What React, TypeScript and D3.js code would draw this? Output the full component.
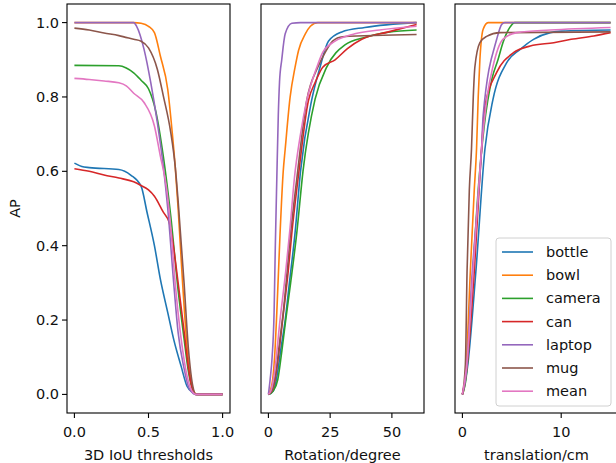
import React from 'react';
import * as d3 from 'd3';

type Pt = [number, number];

const categories = ['bottle', 'bowl', 'camera', 'can', 'laptop', 'mug', 'mean'];
const colors = ['#1f77b4', '#ff7f0e', '#2ca02c', '#d62728', '#9467bd', '#8c564b', '#e377c2'];

// Panel 1: AP vs 3D IoU threshold
const iouBottle: Pt[] = [[0, 0.622], [0.05, 0.613], [0.1, 0.61], [0.3, 0.605], [0.38, 0.59], [0.45, 0.56], [0.49, 0.49], [0.54, 0.4], [0.58, 0.31], [0.63, 0.22], [0.67, 0.148], [0.72, 0.076], [0.76, 0.022], [0.8, 0.005], [0.82, 0], [1, 0]];
const iouBowl: Pt[] = [[0, 1], [0.4, 1], [0.45, 0.998], [0.5, 0.99], [0.54, 0.973], [0.58, 0.91], [0.63, 0.82], [0.66, 0.705], [0.68, 0.614], [0.7, 0.5], [0.73, 0.3], [0.76, 0.13], [0.79, 0.03], [0.81, 0.005], [0.83, 0], [1, 0]];
const iouCamera: Pt[] = [[0, 0.885], [0.3, 0.884], [0.35, 0.878], [0.4, 0.865], [0.45, 0.845], [0.5, 0.822], [0.55, 0.76], [0.6, 0.64], [0.65, 0.48], [0.7, 0.28], [0.74, 0.15], [0.77, 0.06], [0.8, 0.01], [0.82, 0], [1, 0]];
const iouCan: Pt[] = [[0, 0.607], [0.1, 0.6], [0.2, 0.59], [0.3, 0.582], [0.4, 0.572], [0.45, 0.562], [0.5, 0.55], [0.54, 0.533], [0.6, 0.49], [0.64, 0.462], [0.66, 0.42], [0.7, 0.3], [0.74, 0.17], [0.77, 0.07], [0.8, 0.01], [0.82, 0], [1, 0]];
const iouLaptop: Pt[] = [[0, 1], [0.4, 1], [0.42, 0.99], [0.47, 0.928], [0.515, 0.839], [0.56, 0.73], [0.6, 0.614], [0.63, 0.5], [0.67, 0.3], [0.7, 0.166], [0.74, 0.07], [0.77, 0.02], [0.8, 0.003], [0.82, 0], [1, 0]];
const iouMug: Pt[] = [[0, 0.985], [0.1, 0.98], [0.2, 0.972], [0.3, 0.965], [0.4, 0.955], [0.45, 0.95], [0.5, 0.932], [0.56, 0.874], [0.6, 0.803], [0.65, 0.705], [0.68, 0.614], [0.7, 0.52], [0.74, 0.3], [0.77, 0.12], [0.8, 0.02], [0.82, 0], [1, 0]];
const iouMean: Pt[] = [[0, 0.85], [0.1, 0.847], [0.2, 0.843], [0.3, 0.838], [0.35, 0.83], [0.4, 0.81], [0.47, 0.785], [0.54, 0.722], [0.58, 0.641], [0.62, 0.56], [0.65, 0.45], [0.68, 0.3], [0.72, 0.15], [0.76, 0.05], [0.8, 0.005], [0.82, 0], [1, 0]];

// Panel 2: AP vs rotation error (degree)
const rotBottle: Pt[] = [[0, 0], [2, 0.01], [3.5, 0.05], [5, 0.12], [6.8, 0.2], [8.5, 0.3], [10.8, 0.435], [13, 0.6], [17.6, 0.794], [20.9, 0.88], [24.3, 0.95], [29.7, 0.975], [39, 0.987], [60, 1.0]];
const rotBowl: Pt[] = [[0, 0], [1.5, 0.03], [2.5, 0.1], [3.4, 0.22], [4.7, 0.43], [6, 0.6], [6.8, 0.66], [8.8, 0.8], [10.8, 0.88], [12.2, 0.925], [15, 0.97], [17, 0.99], [20, 1], [60, 1]];
const rotCamera: Pt[] = [[0, 0], [2, 0.01], [3.8, 0.04], [5.5, 0.12], [7, 0.2], [9, 0.3], [11.5, 0.435], [14, 0.6], [18.9, 0.794], [23.6, 0.88], [31, 0.94], [39, 0.96], [48.6, 0.974], [60, 0.98]];
const rotCan: Pt[] = [[0, 0], [1.5, 0.01], [2.7, 0.04], [4, 0.1], [6.1, 0.22], [8, 0.33], [9.5, 0.435], [12, 0.58], [16.2, 0.79], [19, 0.84], [22, 0.88], [27, 0.9], [32, 0.93], [37.8, 0.955], [48.6, 0.975], [60, 0.995]];
const rotLaptop: Pt[] = [[0, 0], [0.7, 0.04], [1.5, 0.1], [2.3, 0.22], [2.8, 0.4], [3.4, 0.58], [4, 0.75], [4.5, 0.84], [5.4, 0.9], [6.8, 0.97], [9.5, 0.998], [13, 1], [60, 1]];
const rotMug: Pt[] = [[0, 0], [1.5, 0.01], [3, 0.06], [4.7, 0.15], [6, 0.22], [9, 0.435], [11.5, 0.58], [15.5, 0.79], [20, 0.88], [23, 0.92], [26, 0.95], [30, 0.962], [60, 0.968]];
const rotMean: Pt[] = [[0, 0], [1, 0.01], [2.5, 0.06], [4.7, 0.2], [7, 0.33], [8.8, 0.45], [10.5, 0.58], [13, 0.7], [15.5, 0.79], [19.6, 0.88], [22, 0.92], [27, 0.95], [35, 0.97], [45, 0.98], [60, 0.99]];

// Panel 3: AP vs translation error (cm)
const trBottle: Pt[] = [[0, 0], [0.5, 0.07], [1.36, 0.33], [2.28, 0.66], [3.1, 0.794], [4.5, 0.893], [5.85, 0.928], [7.2, 0.955], [8.9, 0.973], [10, 0.977], [15, 0.98]];
const trBowl: Pt[] = [[0, 0], [0.3, 0.04], [0.8, 0.33], [1.2, 0.55], [1.43, 0.66], [1.6, 0.8], [1.77, 0.9], [2.1, 0.982], [2.6, 1], [15, 1]];
const trCamera: Pt[] = [[0, 0], [0.4, 0.05], [1, 0.3], [1.6, 0.55], [2.2, 0.72], [3, 0.85], [3.6, 0.9], [4.1, 0.946], [4.8, 0.987], [5.3, 1], [15, 1]];
const trCan: Pt[] = [[0, 0], [0.4, 0.06], [1.2, 0.33], [1.8, 0.6], [2.28, 0.776], [3.47, 0.866], [5.17, 0.919], [6.87, 0.937], [9.25, 0.946], [11, 0.955], [13.3, 0.964], [15, 0.973]];
const trLaptop: Pt[] = [[0, 0], [0.4, 0.06], [1, 0.33], [1.5, 0.5], [1.94, 0.66], [2.1, 0.75], [3.47, 0.955], [4, 0.996], [4.3, 1], [15, 1]];
const trMug: Pt[] = [[0, 0], [0.3, 0.08], [0.47, 0.33], [0.7, 0.55], [0.92, 0.66], [1.1, 0.8], [1.26, 0.88], [1.77, 0.946], [2.45, 0.963], [3.8, 0.973], [15, 0.975]];
const trMean: Pt[] = [[0, 0], [0.4, 0.07], [1.08, 0.33], [1.94, 0.66], [2.5, 0.8], [3.1, 0.883], [4.1, 0.955], [5.5, 0.973], [8.9, 0.98], [15, 0.987]];

const yTicks = [0, 0.2, 0.4, 0.6, 0.8, 1.0];
const yTickLabels = ['0.0', '0.2', '0.4', '0.6', '0.8', '1.0'];
const iouTicks = [0, 0.5, 1.0];
const iouTickLabels = ['0.0', '0.5', '1.0'];
const rotTicks = [0, 25, 50];
const rotTickLabels = ['0', '25', '50'];
const trTicks = [0, 10];
const trTickLabels = ['0', '10'];

const panels = [
  { xlabel: '3D IoU thresholds', xMin: 0, xMax: 1, ticks: iouTicks, labels: iouTickLabels, series: [iouBottle, iouBowl, iouCamera, iouCan, iouLaptop, iouMug, iouMean] },
  { xlabel: 'Rotation/degree', xMin: 0, xMax: 60, ticks: rotTicks, labels: rotTickLabels, series: [rotBottle, rotBowl, rotCamera, rotCan, rotLaptop, rotMug, rotMean] },
  { xlabel: 'translation/cm', xMin: 0, xMax: 15, ticks: trTicks, labels: trTickLabels, series: [trBottle, trBowl, trCamera, trCan, trLaptop, trMug, trMean] },
];

const W = 616;
const H = 463;
const top = 4;
const bottom = 413;
const panelLefts = [67, 261, 455];
const panelW = 163;
const FONT = 'DejaVu Sans, sans-serif';
const FS = 14.5;

export default function App() {
  const y = d3.scaleLinear().domain([-0.05, 1.05]).range([bottom, top]);
  return (
    <svg width={W} height={H} style={{ position: 'absolute', left: 0, top: 0, background: '#fff' }} fontFamily={FONT}>
      <defs>
        {panels.map((p, i) => (
          <clipPath id={`clip${i}`} key={i}>
            <rect x={panelLefts[i]} y={top} width={panelW} height={bottom - top} />
          </clipPath>
        ))}
      </defs>
      {panels.map((p, i) => {
        const pad = (p.xMax - p.xMin) * 0.05;
        const x = d3.scaleLinear().domain([p.xMin - pad, p.xMax + pad]).range([panelLefts[i], panelLefts[i] + panelW]);
        const line = d3.line<Pt>().x(d => x(d[0])).y(d => y(d[1])).curve(d3.curveMonotoneX);
        return (
          <g key={i}>
            <g clipPath={`url(#clip${i})`}>
              {p.series.map((s, j) => (
                <path key={j} d={line(s) || ''} fill="none" stroke={colors[j]} strokeWidth={1.6} strokeLinejoin="round" />
              ))}
            </g>
            <rect x={panelLefts[i]} y={top} width={panelW} height={bottom - top} fill="none" stroke="#000" strokeWidth={1.1} />
            {p.ticks.map((t, k) => (
              <g key={k}>
                <line x1={x(t)} x2={x(t)} y1={bottom} y2={bottom + 5} stroke="#000" strokeWidth={1.1} />
                <text x={x(t)} y={bottom + 24} textAnchor="middle" fontSize={FS} fill="#111">{p.labels[k]}</text>
              </g>
            ))}
            <text x={panelLefts[i] + panelW / 2} y={bottom + 47} textAnchor="middle" fontSize={FS} fill="#111">{p.xlabel}</text>
            {i === 0 && yTicks.map((t, k) => (
              <g key={`y${k}`}>
                <line x1={panelLefts[0] - 5} x2={panelLefts[0]} y1={y(t)} y2={y(t)} stroke="#000" strokeWidth={1.1} />
                <text x={panelLefts[0] - 8} y={y(t)} dy="0.35em" textAnchor="end" fontSize={FS} fill="#111">{yTickLabels[k]}</text>
              </g>
            ))}
          </g>
        );
      })}
      <text transform={`translate(20, ${(top + bottom) / 2}) rotate(-90)`} textAnchor="middle" fontSize={FS} fill="#111">AP</text>
      <g>
        <rect x={496} y={238} width={115} height={168} rx={3} fill="#fff" fillOpacity={0.85} stroke="#d0d0d0" strokeWidth={1} />
        {categories.map((c, j) => {
          const cy = 252 + j * 23.2;
          return (
            <g key={c}>
              <line x1={502} x2={533} y1={cy} y2={cy} stroke={colors[j]} strokeWidth={1.6} />
              <text x={546} y={cy} dy="0.35em" fontSize={FS} fill="#111">{c}</text>
            </g>
          );
        })}
      </g>
    </svg>
  );
}
